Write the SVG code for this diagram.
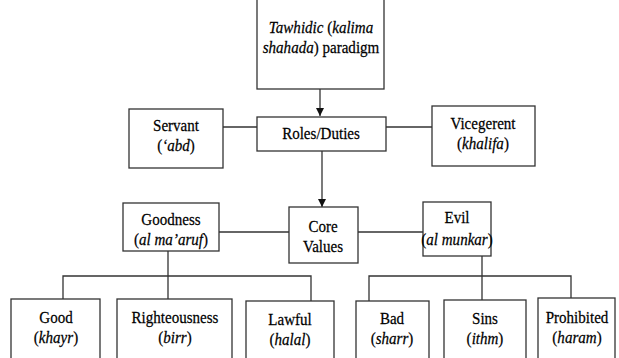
<svg xmlns="http://www.w3.org/2000/svg" width="619" height="358" viewBox="0 0 619 358">
<style>
.b{fill:#fff;stroke:#333;stroke-width:1.3}
.l{fill:none;stroke:#333;stroke-width:1.3}
text{font-family:"Liberation Serif","Times New Roman",serif;font-size:17.5px;fill:#000;stroke:#000;stroke-width:0.25;text-anchor:middle}
.i{font-style:italic}
</style>
<defs>
<marker id="ah" viewBox="0 0 10 10" refX="10" refY="5" markerWidth="8" markerHeight="8" markerUnits="userSpaceOnUse" orient="auto"><path d="M0,0L10,5L0,10z" fill="#111"/></marker>
</defs>
<rect width="619" height="358" fill="#fff"/>
<g id="connectors">
<line class="l" x1="320" y1="89" x2="320" y2="116" marker-end="url(#ah)"/>
<line class="l" x1="223" y1="127" x2="257" y2="127"/>
<line class="l" x1="386" y1="127" x2="432" y2="127"/>
<line class="l" x1="322" y1="151" x2="322" y2="207" marker-end="url(#ah)"/>
<line class="l" x1="219" y1="232" x2="289" y2="232"/>
<line class="l" x1="358" y1="232" x2="423" y2="232"/>
<path class="l" d="M168,251V299M63,299V276H311V301"/>
<path class="l" d="M482,256V300M369,301V276H571V298"/>
</g>
<g id="paradigm"><rect class="b" x="257" y="-10" width="127" height="99"/>
<text transform="translate(321,33) scale(0.86 1)"><tspan class="i">Tawhidic</tspan> (<tspan class="i">kalima</tspan><tspan x="0" dy="20"><tspan class="i">shahada</tspan>) paradigm</tspan></text></g>
<g id="roles"><rect class="b" x="257" y="117" width="129" height="34"/>
<text transform="translate(321,139) scale(0.86 1)">Roles/Duties</text></g>
<g id="servant"><rect class="b" x="129" y="109" width="94" height="59"/>
<text transform="translate(176,131) scale(0.86 1)">Servant<tspan x="0" dy="20">(<tspan class="i">‘abd</tspan>)</tspan></text></g>
<g id="vicegerent"><rect class="b" x="432" y="106" width="103" height="60"/>
<text transform="translate(483,129) scale(0.86 1)">Vicegerent<tspan x="0" dy="20">(<tspan class="i">khalifa</tspan>)</tspan></text></g>
<g id="goodness"><rect class="b" x="123" y="203" width="96" height="48"/>
<text transform="translate(171,225) scale(0.86 1)">Goodness<tspan x="0" dy="20">(<tspan class="i">al ma’aruf</tspan>)</tspan></text></g>
<g id="core"><rect class="b" x="289" y="207" width="69" height="56"/>
<text transform="translate(323,232) scale(0.86 1)">Core<tspan x="0" dy="20">Values</tspan></text></g>
<g id="evil"><rect class="b" x="423" y="202" width="68" height="54"/>
<text transform="translate(457,223) scale(0.86 1)">Evil<tspan x="0" dy="22">(<tspan class="i">al munkar</tspan>)</tspan></text></g>
<g id="good"><rect class="b" x="11" y="299" width="89" height="70"/>
<text transform="translate(56,323) scale(0.86 1)">Good<tspan x="0" dy="20">(<tspan class="i">khayr</tspan>)</tspan></text></g>
<g id="righteousness"><rect class="b" x="117" y="299" width="115" height="70"/>
<text transform="translate(175,323) scale(0.86 1)">Righteousness<tspan x="0" dy="20">(<tspan class="i">birr</tspan>)</tspan></text></g>
<g id="lawful"><rect class="b" x="246" y="301" width="88" height="70"/>
<text transform="translate(290,325) scale(0.86 1)">Lawful<tspan x="0" dy="20">(<tspan class="i">halal</tspan>)</tspan></text></g>
<g id="bad"><rect class="b" x="356" y="301" width="73" height="70"/>
<text transform="translate(392,324) scale(0.86 1)">Bad<tspan x="0" dy="20">(<tspan class="i">sharr</tspan>)</tspan></text></g>
<g id="sins"><rect class="b" x="444" y="300" width="82" height="70"/>
<text transform="translate(485,324) scale(0.86 1)">Sins<tspan x="0" dy="20">(<tspan class="i">ithm</tspan>)</tspan></text></g>
<g id="prohibited"><rect class="b" x="538" y="298" width="77" height="72"/>
<text transform="translate(577,323) scale(0.86 1)">Prohibited<tspan x="0" dy="20">(<tspan class="i">haram</tspan>)</tspan></text></g>
</svg>
